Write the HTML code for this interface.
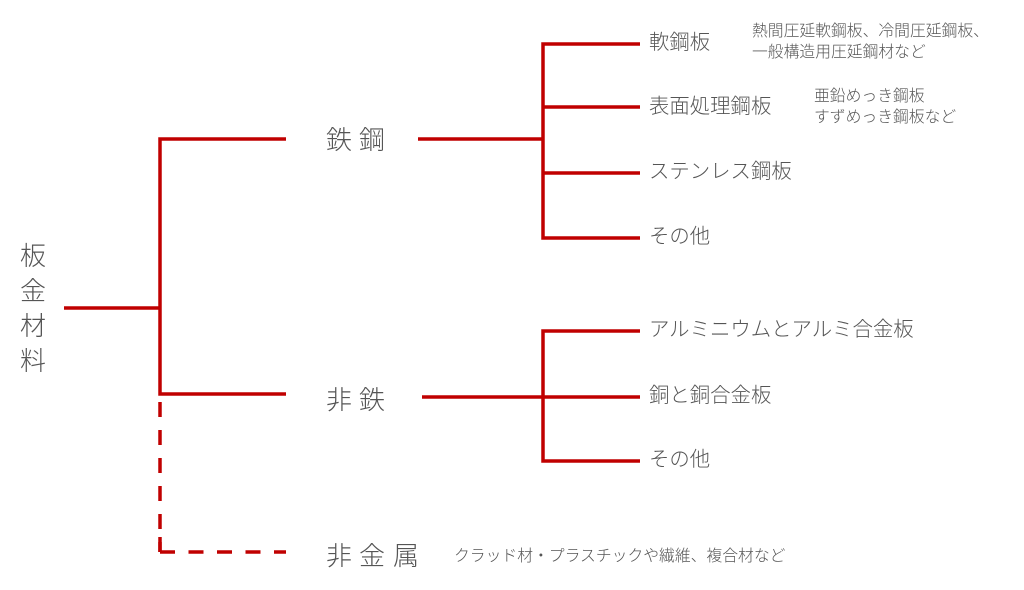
<!DOCTYPE html>
<html><head><meta charset="utf-8"><style>
body{margin:0;background:#fff;width:1024px;height:590px;overflow:hidden;position:relative;font-family:"Liberation Sans","Noto Sans CJK JP",sans-serif;color:#555}
svg{position:absolute;left:0;top:0}
.t{position:absolute;white-space:nowrap;line-height:1}
.big{font-size:26px;font-weight:300}
.m{font-size:20.4px;font-weight:300}
.s{font-size:15.8px;line-height:21px;font-weight:300}
</style></head><body>
<svg width="1024" height="590">
<g stroke="#c00000" stroke-width="3.5" fill="none">
<line x1="64" y1="308" x2="160" y2="308"/>
<polyline points="286,139 160,139 160,394 286,394"/>
<line x1="160" y1="402" x2="160" y2="552" stroke-dasharray="15,13"/>
<line x1="160" y1="552" x2="286" y2="552" stroke-dasharray="15,13.5"/>
<line x1="160" y1="537" x2="160" y2="552"/>
<line x1="418" y1="139" x2="543" y2="139"/>
<polyline points="640,44 543,44 543,238 640,238"/>
<line x1="543" y1="107" x2="640" y2="107"/>
<line x1="543" y1="173" x2="640" y2="173"/>
<line x1="422" y1="397" x2="543" y2="397"/>
<polyline points="640,331 543,331 543,461 640,461"/>
<line x1="543" y1="397" x2="640" y2="397"/>
</g></svg>
<div class="t" style="left:20px;top:239px;font-size:26px;line-height:35px;width:30px;font-weight:300">板<br>金<br>材<br>料</div>
<div class="t big" style="left:326px;top:127px">鉄</div><div class="t big" style="left:359px;top:127px">鋼</div>
<div class="t big" style="left:326px;top:387px">非</div><div class="t big" style="left:359px;top:387px">鉄</div>
<div class="t big" style="left:326px;top:543px">非</div><div class="t big" style="left:359px;top:543px">金</div><div class="t big" style="left:393px;top:543px">属</div>
<div class="t m" style="left:649px;top:33px">軟鋼板</div>
<div class="t m" style="left:649px;top:97px">表面処理鋼板</div>
<div class="t m" style="left:649px;top:162px">ステンレス鋼板</div>
<div class="t m" style="left:649px;top:227px">その他</div>
<div class="t m" style="left:649px;top:320px">アルミニウムとアルミ合金板</div>
<div class="t m" style="left:649px;top:386px">銅と銅合金板</div>
<div class="t m" style="left:649px;top:450px">その他</div>
<div class="t s" style="left:752px;top:21px">熱間圧延軟鋼板、冷間圧延鋼板、<br>一般構造用圧延鋼材など</div>
<div class="t s" style="left:814px;top:86px">亜鉛めっき鋼板<br>すずめっき鋼板など</div>
<div class="t s" style="left:454px;top:546px">クラッド材・プラスチックや繊維、複合材など</div>
</body></html>
